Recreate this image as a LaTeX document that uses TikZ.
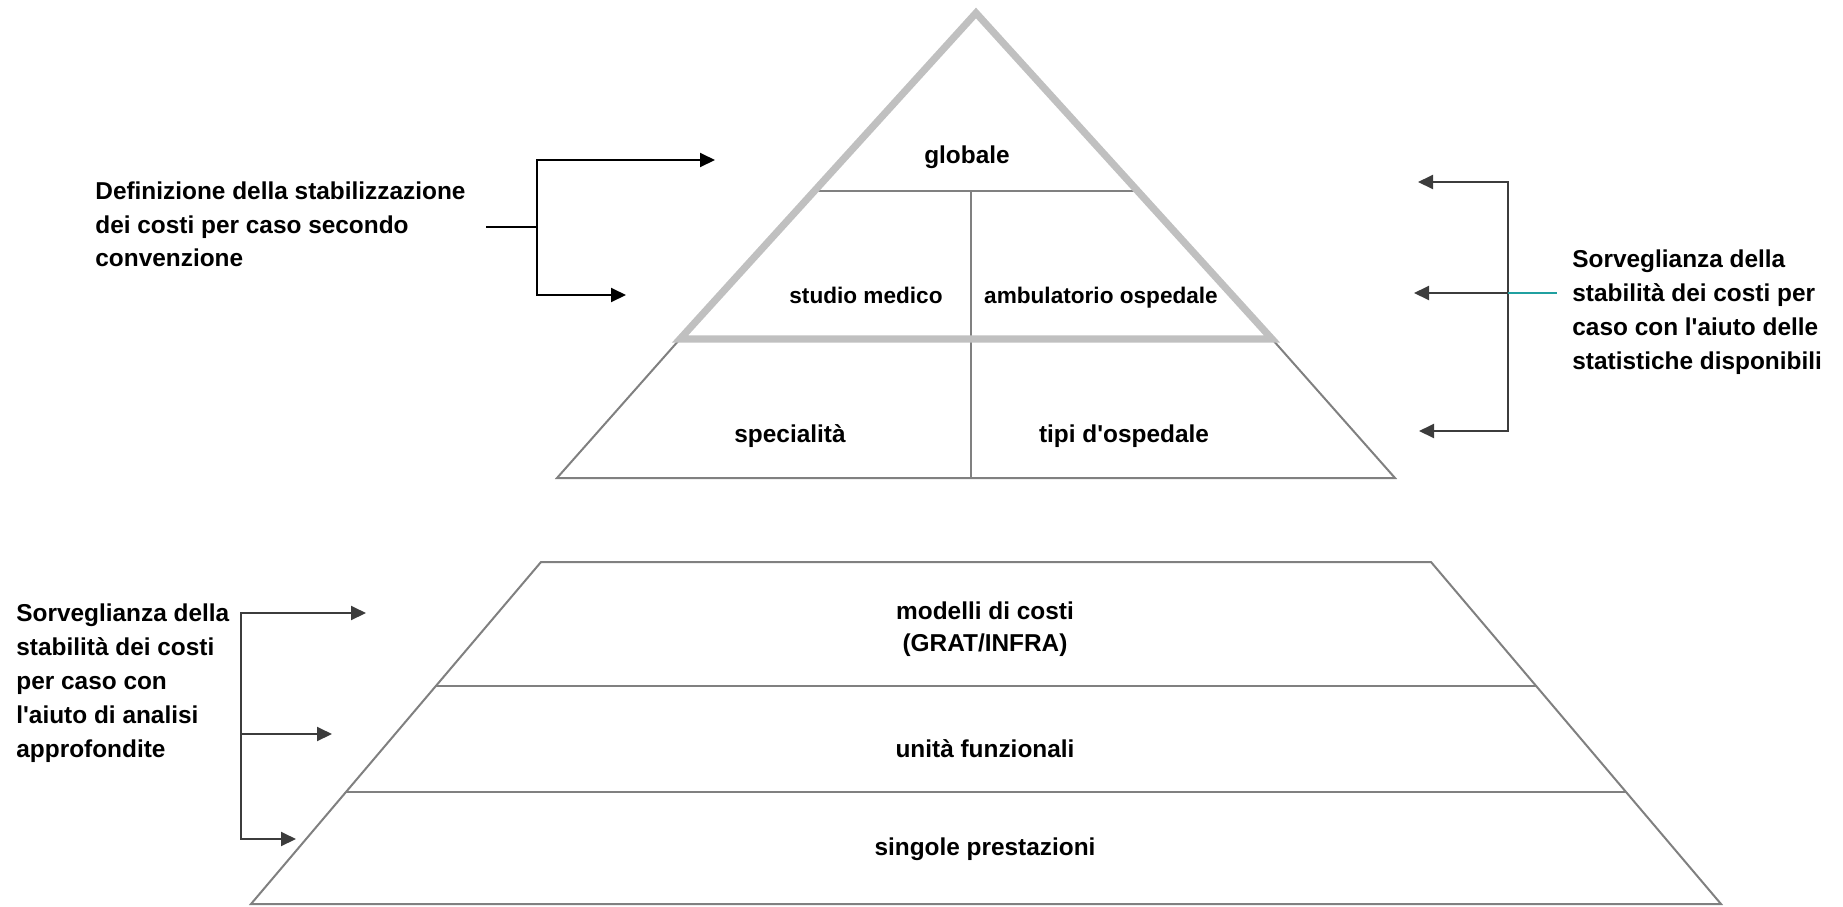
\documentclass[tikz,border=0pt]{standalone}
\usepackage{fontspec}
\setmainfont{Liberation Sans}
\usetikzlibrary{arrows.meta}
\definecolor{thingray}{RGB}{128,128,128}
\definecolor{thickgray}{RGB}{192,192,192}
\definecolor{darkline}{RGB}{60,60,60}
\definecolor{tealline}{RGB}{32,160,160}
\begin{document}
\begin{tikzpicture}[x=0.5pt,y=-0.5pt,
  thinline/.style={draw=thingray,line width=1pt},
  thickline/.style={draw=thickgray,line width=3.6pt,line join=miter},
  lab/.style={inner sep=0pt,font=\fontsize{12.2pt}{16pt}\selectfont\bfseries},
  smalllab/.style={inner sep=0pt,font=\fontsize{11.3pt}{14pt}\selectfont\bfseries},
  side/.style={inner sep=0pt,align=left,anchor=north west,font=\fontsize{12.2pt}{17pt}\selectfont\bfseries},
  conn/.style={line width=1pt,-{Triangle[length=7.5pt,width=7pt]}},
  ]
\useasboundingbox (0,0) rectangle (1843,906);

% upper pyramid
\draw[thinline] (815,191) -- (1137,191);
\draw[thinline] (971,191) -- (971,478);
\draw[thinline] (680,339) -- (557,478) -- (1395,478) -- (1272,339);
\draw[thickline] (976,13) -- (1272,339) -- (680,339) -- cycle;

\node[lab,anchor=base] (glob) at (967,163) {globale};
\node[smalllab,anchor=base] (stud) at (866,303) {studio medico};
\node[smalllab,anchor=base] (amb) at (1101,303) {ambulatorio ospedale};
\node[lab,anchor=base] (spec) at (790,442) {specialità};
\node[lab,anchor=base] (tipi) at (1124,442) {tipi d\textquotesingle ospedale};

% lower pyramid
\draw[thinline] (541,562) -- (1431,562) -- (1721,904) -- (251,904) -- cycle;
\draw[thinline] (436,686) -- (1536,686);
\draw[thinline] (346,792) -- (1626,792);

\node[lab,anchor=north,align=center] (mod) at (985,601) {modelli di costi\\(GRAT/INFRA)};
\node[lab,anchor=base] (unit) at (985,757) {unità funzionali};
\node[lab,anchor=base] (sing) at (985,855) {singole prestazioni};

% side texts
\node[side,font=\fontsize{12.2pt}{16.8pt}\selectfont\bfseries] (deftext) at (95,181.5) {Definizione della stabilizzazione\\dei costi per caso secondo\\convenzione};
\node[side] (survR) at (1572,249.5) {Sorveglianza della\\stabilità dei costi per\\caso con l\textquotesingle aiuto delle\\statistiche disponibili};
\node[side] (survL) at (16,603.5) {Sorveglianza della\\stabilità dei costi\\per caso con\\l\textquotesingle aiuto di analisi\\approfondite};

% upper-left bracket
\coordinate (Ls) at (486,227);
\coordinate (Lj) at (537,227);
\coordinate (La) at (715,160);
\coordinate (Lb) at (626,295);
\draw[line width=1pt] (Ls) -- (Lj);
\draw[conn] (Lj) |- (La);
\draw[conn] (Lj) |- (Lb);

% right bracket
\coordinate (Rj) at (1508,293);
\coordinate (Ra) at (1418,182);
\coordinate (Rb) at (1414,293);
\coordinate (Rc) at (1419,431);
\coordinate (Rt) at (1557,293);
\draw[conn,darkline] (Rj) |- (Ra);
\draw[conn,darkline] (Rj) |- (Rc);
\draw[conn,darkline] (Rj) -- (Rb);
\draw[tealline,line width=1pt] (Rj) -- (Rt);

% lower-left bracket
\coordinate (Bj) at (241,734);
\coordinate (Ba) at (366,613);
\coordinate (Bb) at (332,734);
\coordinate (Bc) at (296,839);
\draw[conn,darkline] (Bj) |- (Ba);
\draw[conn,darkline] (Bj) |- (Bc);
\draw[conn,darkline] (Bj) -- (Bb);
\end{tikzpicture}
\end{document}
